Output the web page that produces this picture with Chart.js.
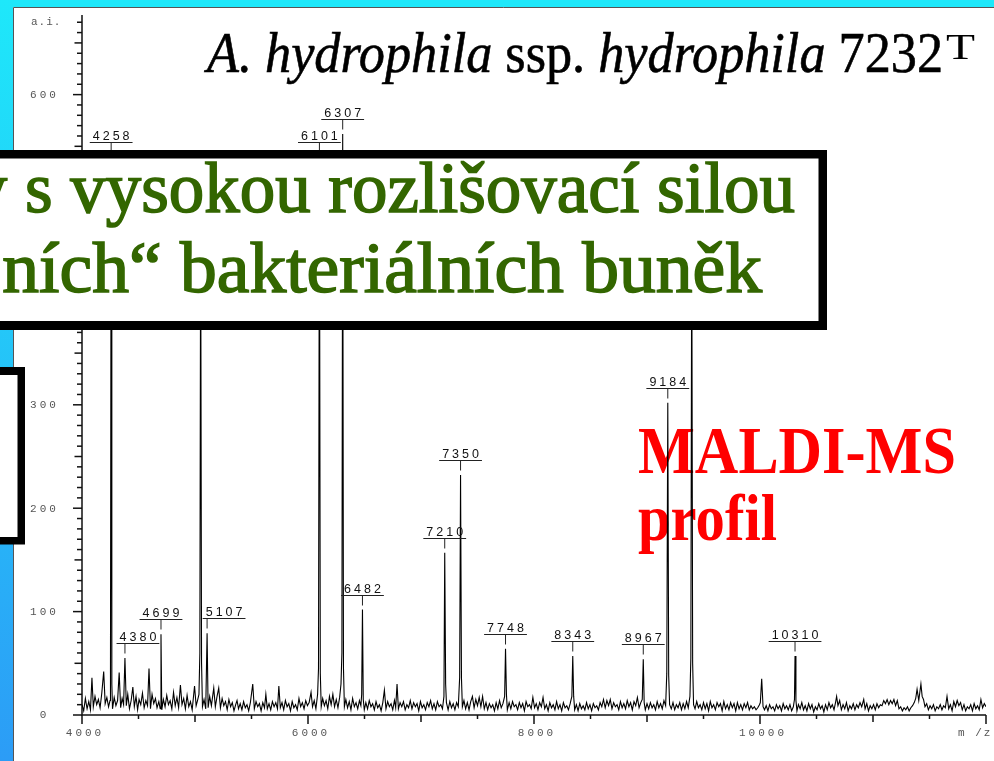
<!DOCTYPE html>
<html>
<head>
<meta charset="utf-8">
<script src="https://cdn.jsdelivr.net/npm/chart.js@4.4.0/dist/chart.umd.min.js"></script>
<style>
html, body { margin: 0; padding: 0; background: #fff; overflow: hidden; }
canvas { display: block; }
</style>
</head>
<body>
<canvas id="spectrum" width="994" height="761"></canvas>
<script>
// MALDI-MS profile, A. hydrophila ssp. hydrophila 7232T
// [m/z, intensity (a.i.)]
const spectrum = [
  [4000,10],[4015,4],[4030,16],[4045,6],[4060,13],[4075,5],[4088,36],[4100,8],[4115,18],[4130,10],
  [4145,15],[4160,7],[4175,21],[4192,42],[4205,11],[4220,17],[4235,8],[4248,14],[4252,40],[4258,540],
  [4264,30],[4270,6],[4285,17],[4300,9],[4315,14],[4329,41],[4342,7],[4355,16],[4368,10],[4380,55],
  [4392,9],[4405,20],[4420,6],[4435,14],[4450,27],[4463,8],[4478,18],[4492,5],[4505,15],[4520,10],
  [4535,21],[4550,7],[4565,14],[4580,9],[4593,45],[4606,6],[4620,20],[4635,11],[4650,16],[4664,7],
  [4680,13],[4692,6],[4699,78],[4706,5],[4720,15],[4735,8],[4750,19],[4765,10],[4780,14],[4795,6],
  [4810,22],[4825,9],[4840,17],[4855,7],[4871,29],[4885,10],[4900,16],[4915,6],[4930,19],[4945,8],
  [4960,13],[4975,5],[4996,28],[5010,9],[5022,14],[5035,20],[5043,60],[5050,480],[5058,50],[5066,8],
  [5080,15],[5095,6],[5107,79],[5116,7],[5130,18],[5145,9],[5166,26],[5180,8],[5195,18],[5210,26],
  [5225,7],[5240,16],[5255,9],[5270,13],[5285,5],[5300,15],[5315,8],[5330,12],[5345,4],[5360,10],
  [5372,14],[5385,6],[5400,11],[5415,5],[5430,13],[5445,7],[5460,10],[5475,4],[5490,12],[5511,30],
  [5525,6],[5540,13],[5555,8],[5570,11],[5585,4],[5600,12],[5615,7],[5627,20],[5640,6],[5655,11],
  [5670,5],[5685,13],[5700,8],[5715,12],[5730,6],[5742,28],[5755,7],[5770,12],[5785,5],[5800,14],
  [5815,8],[5830,11],[5845,4],[5860,13],[5875,7],[5890,10],[5905,5],[5920,16],[5935,8],[5950,12],
  [5965,6],[5980,14],[5995,9],[6010,12],[6027,22],[6040,8],[6055,14],[6070,6],[6085,20],[6093,45],
  [6101,540],[6109,40],[6117,8],[6130,16],[6145,9],[6160,14],[6175,6],[6190,18],[6205,10],[6220,20],
  [6235,8],[6250,15],[6265,7],[6280,17],[6292,30],[6300,60],[6307,562],[6314,45],[6322,8],[6335,15],
  [6350,7],[6365,13],[6380,5],[6395,16],[6410,8],[6425,12],[6440,6],[6455,14],[6468,9],[6475,20],
  [6482,102],[6489,15],[6498,5],[6512,12],[6527,6],[6542,14],[6557,8],[6572,11],[6587,5],[6602,13],
  [6617,7],[6632,10],[6647,4],[6662,12],[6676,24],[6690,6],[6705,13],[6720,8],[6735,11],[6750,5],
  [6765,14],[6776,7],[6788,30],[6800,6],[6815,12],[6830,8],[6845,13],[6860,5],[6875,10],[6890,7],
  [6905,14],[6920,6],[6935,12],[6950,8],[6965,11],[6980,4],[6995,13],[7010,7],[7025,10],[7040,5],
  [7055,12],[7070,8],[7085,14],[7100,6],[7115,11],[7130,5],[7145,13],[7160,8],[7175,10],[7190,6],
  [7203,18],[7210,157],[7218,30],[7225,12],[7240,5],[7255,13],[7270,7],[7285,11],[7300,5],[7315,12],
  [7330,8],[7342,36],[7350,232],[7358,36],[7366,8],[7380,14],[7395,6],[7410,12],[7425,5],[7440,13],
  [7455,18],[7470,7],[7485,15],[7500,9],[7515,17],[7530,8],[7545,18],[7560,6],[7575,12],[7590,5],
  [7605,11],[7620,7],[7635,10],[7650,4],[7665,12],[7680,6],[7695,14],[7710,7],[7725,11],[7740,18],
  [7748,64],[7756,20],[7764,5],[7780,12],[7795,6],[7810,13],[7825,8],[7840,10],[7855,5],[7870,12],
  [7885,7],[7900,11],[7915,4],[7930,13],[7945,8],[7960,10],[7975,6],[7990,17],[8005,7],[8020,11],
  [8035,5],[8050,12],[8065,8],[8080,17],[8095,6],[8110,10],[8125,4],[8140,12],[8155,7],[8170,10],
  [8185,5],[8200,13],[8215,6],[8230,10],[8245,4],[8260,12],[8275,7],[8290,9],[8305,5],[8320,11],
  [8335,18],[8343,57],[8351,18],[8360,5],[8375,10],[8390,4],[8405,11],[8420,6],[8435,9],[8450,5],
  [8465,12],[8480,6],[8495,10],[8510,4],[8525,11],[8540,7],[8555,9],[8570,5],[8585,12],[8600,8],
  [8615,15],[8630,7],[8645,14],[8660,9],[8675,15],[8690,6],[8705,12],[8720,8],[8735,10],[8750,5],
  [8765,13],[8780,7],[8795,11],[8810,6],[8825,14],[8840,8],[8855,12],[8870,5],[8885,13],[8900,9],
  [8915,17],[8930,7],[8945,12],[8958,15],[8967,54],[8975,12],[8985,5],[9000,11],[9015,6],[9030,12],
  [9045,7],[9060,10],[9075,5],[9090,13],[9105,7],[9120,11],[9135,6],[9150,14],[9165,9],[9175,40],
  [9184,302],[9192,38],[9200,10],[9215,6],[9230,12],[9245,5],[9260,10],[9275,7],[9290,12],[9305,5],
  [9320,11],[9335,6],[9350,13],[9365,7],[9380,18],[9388,55],[9396,470],[9404,50],[9412,10],[9425,6],
  [9440,13],[9455,7],[9470,10],[9485,5],[9500,12],[9515,6],[9530,11],[9545,4],[9560,13],[9575,7],
  [9590,10],[9605,5],[9620,12],[9635,8],[9650,11],[9665,4],[9680,13],[9695,6],[9710,10],[9725,5],
  [9740,12],[9755,7],[9770,11],[9785,4],[9800,12],[9815,6],[9830,10],[9845,5],[9860,11],[9875,7],
  [9890,12],[9905,5],[9920,9],[9935,6],[9950,8],[9965,5],[9980,7],[9995,10],[10003,12],[10015,35],
  [10027,8],[10040,5],[10055,9],[10070,4],[10085,10],[10100,6],[10115,8],[10130,4],[10145,10],[10160,6],
  [10175,9],[10190,4],[10205,11],[10220,6],[10235,9],[10250,5],[10265,10],[10280,4],[10295,8],[10305,15],
  [10310,57],[10318,14],[10327,4],[10340,10],[10355,6],[10370,12],[10385,5],[10400,9],[10415,4],[10430,11],
  [10445,6],[10460,10],[10475,3],[10490,8],[10505,5],[10520,11],[10535,6],[10550,9],[10565,3],[10580,10],
  [10595,5],[10610,12],[10625,7],[10640,10],[10655,5],[10670,13],[10678,18],[10690,9],[10705,14],[10720,5],
  [10735,10],[10750,6],[10765,12],[10780,4],[10795,9],[10810,6],[10825,11],[10840,5],[10855,10],[10870,7],
  [10885,12],[10900,8],[10918,15],[10930,6],[10945,11],[10960,4],[10975,9],[10990,6],[11005,10],[11020,5],
  [11035,11],[11050,7],[11065,10],[11080,9],[11095,14],[11110,11],[11125,15],[11140,10],[11155,14],[11170,11],
  [11185,15],[11200,9],[11215,14],[11230,6],[11245,8],[11260,4],[11275,7],[11290,5],[11305,8],[11320,4],
  [11335,7],[11350,9],[11365,12],[11378,16],[11390,25],[11405,14],[11424,30],[11435,18],[11447,15],[11460,8],
  [11475,11],[11490,5],[11505,9],[11520,6],[11535,10],[11550,4],[11565,8],[11580,6],[11595,10],[11610,5],
  [11625,9],[11640,7],[11655,18],[11670,6],[11685,10],[11700,4],[11715,13],[11730,8],[11745,14],[11760,9],
  [11775,12],[11790,5],[11805,10],[11820,4],[11835,8],[11850,6],[11865,10],[11880,4],[11895,11],[11910,6],
  [11925,9],[11940,5],[11955,15],[11970,7],[11985,11],[12000,8]
];

const labelledPeaks = [4258, 4380, 4699, 5107, 6101, 6307, 6482, 7210, 7350, 7748, 8343, 8967, 9184, 10310];
const xTickLabels = [4000, 6000, 8000, 10000];
const yTickLabels = [0, 100, 200, 300, 400, 500, 600];

const titleParts = [
    { text: 'A. hydrophila', italic: true },
    { text: ' ssp. ', italic: false },
    { text: 'hydrophila', italic: true },
    { text: ' 7232', italic: false }
];
const titleSup = 'T';
const boxLines = ['y s vysokou rozlišovací silou', 'ních\u201C bakteriálních buněk'];
const redLines = ['MALDI-MS', 'profil'];

// labels pushed sideways where neighbours crowd them (px)
const labelShift = { 4380: 13, 5107: 17 };

// draw text squeezed/stretched horizontally so it runs from x0 to x1
function fitText(ctx, text, font, x0, x1, y, stroke) {
    ctx.font = font;
    const w = ctx.measureText(text).width;
    const sx = (x1 - x0) / w;
    ctx.save();
    ctx.translate(x0, y);
    ctx.scale(sx, 1);
    ctx.fillText(text, 0, 0);
    if (stroke) ctx.strokeText(text, 0, 0);
    ctx.restore();
    return sx;
}

const frame = {
    id: 'frame',
    beforeDraw(chart) {
        const ctx = chart.ctx;
        const W = chart.width, H = chart.height;
        ctx.save();
        ctx.fillStyle = '#fff';
        ctx.fillRect(0, 0, W, H);
        ctx.fillStyle = '#1ee8fa';
        ctx.fillRect(0, 0, W, 7);
        const g = ctx.createLinearGradient(0, 0, 0, H);
        g.addColorStop(0, '#1ee8fa');
        g.addColorStop(1, '#2c9cf6');
        ctx.fillStyle = g;
        ctx.fillRect(0, 0, 13, H);
        ctx.strokeStyle = '#555';
        ctx.lineWidth = 1;
        ctx.beginPath();
        ctx.moveTo(13.5, H); ctx.lineTo(13.5, 7.5); ctx.lineTo(W, 7.5);
        ctx.stroke();
        ctx.restore();
    }
};

const axes = {
    id: 'axes',
    beforeDatasetsDraw(chart) {
        const { ctx, scales: { x, y } } = chart;
        const x0 = x.getPixelForValue(4000);
        const y0 = y.getPixelForValue(0);
        ctx.save();

        // red overlay text sits under the trace
        ctx.fillStyle = '#ff0000';
        ctx.textBaseline = 'alphabetic';
        fitText(ctx, redLines[0], 'bold 68px "Liberation Serif"', 638, 956, 473);
        fitText(ctx, redLines[1], 'bold 66px "Liberation Serif"', 638, 777, 540);

        ctx.strokeStyle = '#111';
        ctx.lineWidth = 1.5;
        ctx.beginPath();
        ctx.moveTo(x0, y.top); ctx.lineTo(x0, y0); ctx.lineTo(x.right, y0);
        ctx.stroke();

        // y ticks every 10
        for (let v = 0; v <= 670; v += 10) {
            const py = y.getPixelForValue(v);
            const len = v % 100 === 0 ? 9 : (v % 50 === 0 ? 7.5 : 5);
            ctx.beginPath();
            ctx.moveTo(x0 - len, py); ctx.lineTo(x0, py);
            ctx.stroke();
        }
        // x ticks every 500, pointing down
        for (let v = 4000; v <= 12000; v += 500) {
            const px = x.getPixelForValue(v);
            const len = v % 2000 === 0 ? 9 : (v % 1000 === 0 ? 7 : 4);
            ctx.beginPath();
            ctx.moveTo(px, y0); ctx.lineTo(px, y0 + len);
            ctx.stroke();
        }

        ctx.fillStyle = '#555';
        ctx.font = '11px "Liberation Mono"';
        ctx.letterSpacing = '3px';
        ctx.textAlign = 'center';
        ctx.textBaseline = 'middle';
        yTickLabels.forEach(v => ctx.fillText(String(v), 44.5, y.getPixelForValue(v) + 0.5));
        xTickLabels.forEach(v => ctx.fillText(String(v), x.getPixelForValue(v) + 3, 733));
        ctx.letterSpacing = '1px';
        ctx.textAlign = 'left';
        ctx.fillText('a.i.', 31, 22);
        ctx.letterSpacing = '2px';
        ctx.fillText('m /z', 958, 733);
        ctx.restore();
    },
    afterDatasetsDraw(chart) {
        const { ctx, scales: { x, y } } = chart;
        ctx.save();
        ctx.font = '12.5px "Liberation Sans"';
        ctx.letterSpacing = '3px';
        ctx.textAlign = 'left';
        ctx.textBaseline = 'alphabetic';
        ctx.fillStyle = '#111';
        ctx.strokeStyle = '#222';
        ctx.lineWidth = 1;
        labelledPeaks.forEach(m => {
            const h = spectrum.find(p => p[0] === m)[1];
            const px = x.getPixelForValue(m);
            const barY = Math.round(y.getPixelForValue(h) - 15) + 0.5;
            const txt = String(m);
            const tw = ctx.measureText(txt).width - 3;
            const cx = px + (labelShift[m] || 0);
            ctx.fillText(txt, cx - tw / 2, barY - 3);
            ctx.beginPath();
            ctx.moveTo(cx - tw / 2 - 3, barY); ctx.lineTo(cx + tw / 2 + 3, barY);
            ctx.moveTo(px, barY); ctx.lineTo(px, barY + 10);
            ctx.stroke();
        });
        ctx.restore();
    },
    afterDraw(chart) {
        const ctx = chart.ctx;
        ctx.save();
        // title
        ctx.fillStyle = '#000';
        ctx.strokeStyle = '#000';
        ctx.lineWidth = 0.6;
        ctx.textBaseline = 'alphabetic';
        const tFont = p => (p.italic ? 'italic ' : '') + '56px "Liberation Serif"';
        let total = 0;
        titleParts.forEach(p => {
            ctx.font = tFont(p);
            total += ctx.measureText(p.text).width;
        });
        const sx = (943 - 207) / total;
        let tx = 207;
        titleParts.forEach(p => {
            ctx.font = tFont(p);
            const w = ctx.measureText(p.text).width;
            ctx.save();
            ctx.translate(tx, 72);
            ctx.scale(sx, 1);
            ctx.fillText(p.text, 0, 0);
            ctx.strokeText(p.text, 0, 0);
            ctx.restore();
            tx += w * sx;
        });
        fitText(ctx, titleSup, '36px "Liberation Serif"', 946, 975, 59);

        // green box (runs off the left edge)
        ctx.fillStyle = '#000';
        ctx.fillRect(-20, 150, 847, 180);
        ctx.fillStyle = '#fff';
        ctx.fillRect(-20, 158.5, 838.5, 162.5);
        ctx.fillStyle = '#336600';
        ctx.strokeStyle = '#336600';
        ctx.lineWidth = 1.6;
        const gFont = '72px "Liberation Serif"';
        const s1 = fitText(ctx, boxLines[0].slice(2), gFont, 25, 795, 212, true);
        ctx.save();
        ctx.translate(25, 212); ctx.scale(s1, 1);
        ctx.textAlign = 'right';
        ctx.fillText(boxLines[0].slice(0, 2), 0, 0);
        ctx.strokeText(boxLines[0].slice(0, 2), 0, 0);
        ctx.restore();
        const cut = boxLines[1].indexOf(' ') + 1;
        const s2 = fitText(ctx, boxLines[1].slice(cut), gFont, 180, 762, 292, true);
        ctx.save();
        ctx.translate(180, 292); ctx.scale(s2, 1);
        ctx.textAlign = 'right';
        ctx.fillText(boxLines[1].slice(0, cut), 0, 0);
        ctx.strokeText(boxLines[1].slice(0, cut), 0, 0);
        ctx.restore();

        // left box, only its edge shows
        ctx.fillStyle = '#000';
        ctx.fillRect(-20, 367, 45, 177.5);
        ctx.fillStyle = '#fff';
        ctx.fillRect(-20, 375, 37.5, 162);
        ctx.restore();
    }
};

new Chart(document.getElementById('spectrum'), {
    type: 'line',
    data: {
        datasets: [{
            data: spectrum.map(p => ({ x: p[0], y: p[1] })),
            borderColor: '#000',
            borderWidth: 1.1,
            pointRadius: 0,
            tension: 0
        }]
    },
    options: {
        responsive: false,
        animation: false,
        devicePixelRatio: 1,
        layout: { padding: { left: 82, top: 15, right: 8, bottom: 46 } },
        scales: {
            x: { type: 'linear', min: 4000, max: 12000, display: false },
            y: { min: 0, max: 677, display: false }
        },
        plugins: { legend: { display: false }, tooltip: { enabled: false } }
    },
    plugins: [frame, axes]
});
</script>
</body>
</html>
